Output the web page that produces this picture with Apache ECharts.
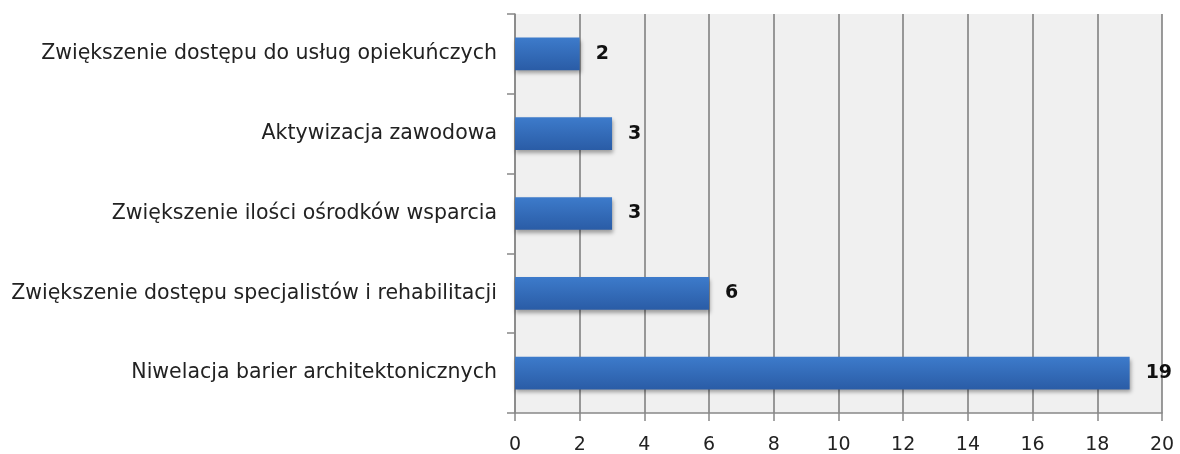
<!DOCTYPE html>
<html><head><meta charset="utf-8">
<script src="https://cdn.jsdelivr.net/npm/echarts@6/dist/echarts.min.js"></script>
<style>html,body{margin:0;padding:0;background:#fff}#c{width:1180px;height:454px}</style>
</head><body><div id="c"></div>
<script>
const categories = ["Niwelacja barier architektonicznych","Zwiększenie dostępu specjalistów i rehabilitacji","Zwiększenie ilości ośrodków wsparcia","Aktywizacja zawodowa","Zwiększenie dostępu do usług opiekuńczych"];
const values = [19,6,3,3,2];
const xTicks = {min:0,max:20,interval:2};
const chart = echarts.init(document.getElementById('c'));
chart.setOption({
  animation:false,
  grid:{left:515,right:18,top:14,bottom:41,show:true,backgroundColor:'#f0f0f0',borderWidth:0,outerBoundsMode:'none',containLabel:false},
  xAxis:{type:'value',min:xTicks.min,max:xTicks.max,interval:xTicks.interval,
    axisLine:{show:true,lineStyle:{color:'#888',width:1.5}},
    axisTick:{show:true,length:8,lineStyle:{color:'#888',width:1.5}},
    splitLine:{show:true,lineStyle:{color:'#7a7a7a',width:1.5}},
    axisLabel:{color:'#222',fontSize:19,fontFamily:'DejaVu Sans',margin:23}},
  yAxis:{type:'category',data:categories,
    axisLine:{show:true,lineStyle:{color:'#888',width:1.5}},
    axisTick:{show:true,length:8,lineStyle:{color:'#888',width:1.5}},
    axisLabel:{color:'#222',fontSize:20.5,fontFamily:'DejaVu Sans',margin:18}},
  series:[{type:'bar',data:values,barWidth:'41%',
    itemStyle:{color:new echarts.graphic.LinearGradient(0,0,0,1,[{offset:0,color:'#3d7bcb'},{offset:1,color:'#2a5ca6'}]),
      shadowColor:'rgba(0,0,0,0.35)',shadowBlur:4,shadowOffsetY:3,shadowOffsetX:1},
    label:{show:true,position:'right',distance:16,color:'#111',fontWeight:'bold',fontSize:19,fontFamily:'DejaVu Sans'}}]
});
</script></body></html>
